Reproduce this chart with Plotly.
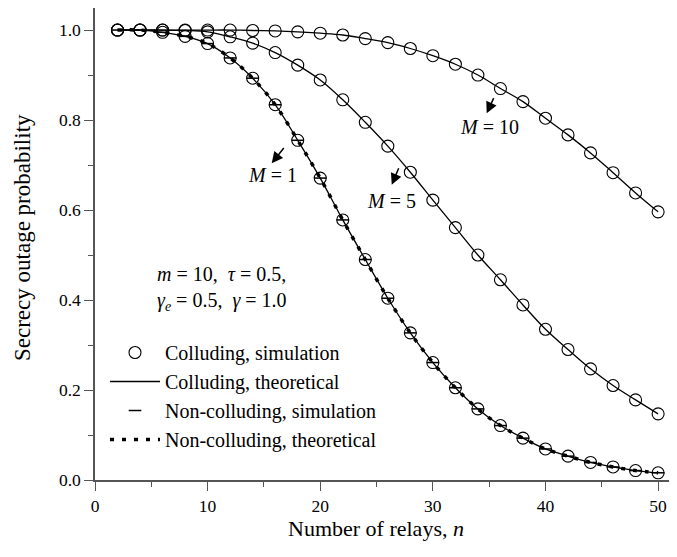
import plotly.graph_objects as go

n_relays = list(range(2, 51, 2))

# Secrecy outage probability, colluding eavesdroppers
col_M1 = [1.000, 1.000, 0.995, 0.986, 0.970, 0.938, 0.893, 0.834, 0.755, 0.671,
          0.578, 0.490, 0.404, 0.327, 0.261, 0.205, 0.158, 0.121, 0.093, 0.069,
          0.053, 0.039, 0.029, 0.021, 0.016]
col_M5 = [1.000, 1.000, 1.000, 0.999, 0.996, 0.985, 0.971, 0.950, 0.922, 0.889,
          0.845, 0.795, 0.742, 0.684, 0.622, 0.561, 0.500, 0.445, 0.389, 0.335,
          0.290, 0.247, 0.210, 0.178, 0.147]
col_M10 = [1.000, 1.000, 1.000, 1.000, 1.000, 1.000, 0.999, 0.998, 0.996, 0.993,
           0.989, 0.981, 0.972, 0.959, 0.943, 0.924, 0.900, 0.870, 0.841, 0.804,
           0.767, 0.727, 0.683, 0.638, 0.596]
# Non-colluding (M = 1)
noncol_M1 = [1.000, 1.000, 0.995, 0.986, 0.970, 0.938, 0.893, 0.834, 0.755, 0.671,
             0.578, 0.490, 0.404, 0.327, 0.261, 0.205, 0.158, 0.121, 0.093, 0.069,
             0.053, 0.039, 0.029, 0.021, 0.016]

x_ticks = [0, 10, 20, 30, 40, 50]
y_ticks = [0.0, 0.2, 0.4, 0.6, 0.8, 1.0]
y_tick_text = ["0.0", "0.2", "0.4", "0.6", "0.8", "1.0"]

FONT = "Liberation Serif, Times New Roman, serif"
fig = go.Figure()

curves = [col_M1, col_M5, col_M10]
# theoretical colluding lines
for i, c in enumerate(curves):
    fig.add_trace(go.Scatter(x=n_relays, y=c, mode="lines", line=dict(color="black", width=1.3, shape="spline"),
                             name="Colluding, theoretical", showlegend=(i == 0), legendrank=2))
# non-colluding theoretical (dotted)
fig.add_trace(go.Scatter(x=n_relays, y=noncol_M1, mode="lines",
                         line=dict(color="black", width=3.5, dash="4px,8px", shape="spline"),
                         name="Non-colluding, theoretical", legendrank=4))
# non-colluding simulation
fig.add_trace(go.Scatter(x=n_relays, y=noncol_M1, mode="markers",
                         marker=dict(symbol="line-ew", size=9, line=dict(color="black", width=1.5)),
                         name="Non-colluding, simulation", legendrank=3))
# colluding simulation circles
for i, c in enumerate(curves):
    fig.add_trace(go.Scatter(x=n_relays, y=c, mode="markers",
                             marker=dict(symbol="circle-open", size=12, color="black", line=dict(width=1.1)),
                             name="Colluding, simulation", showlegend=(i == 0), legendrank=1))

ann = []
# M labels with arrows: text position, arrow head, arrow tail (data units)
labels = [("<i>M</i> = 1", 15.8, 0.678, 15.69, 0.704, 16.87, 0.741),
          ("<i>M</i> = 5", 26.35, 0.620, 26.35, 0.656, 27.02, 0.696),
          ("<i>M</i> = 10", 35.01, 0.785, 34.78, 0.815, 35.46, 0.852)]
for txt, tx, ty, hx, hy, sx, sy in labels:
    ann.append(dict(x=tx, y=ty, xref="x", yref="y", text=txt, showarrow=False,
                    xanchor="center", yanchor="middle",
                    font=dict(family=FONT, size=20, color="black")))
    ann.append(dict(x=hx, y=hy, ax=sx, ay=sy, xref="x", yref="y", axref="x", ayref="y",
                    text="", showarrow=True, arrowhead=2, arrowsize=1.5, arrowwidth=1.5,
                    arrowcolor="black", standoff=0, startstandoff=0))
ann.append(dict(x=(155 - 95) / 580, y=(480 - 288) / 472, xref="paper", yref="paper",
                xanchor="left", yanchor="middle", align="left", showarrow=False,
                text="<i>m</i> = 10,  <i>τ</i> = 0.5,<br><i>γ<sub>e</sub></i> = 0.5,  <i>γ</i> = 1.0",
                font=dict(family=FONT, size=20, color="black")))
# axis titles
ann.append(dict(x=(376 - 95) / 580, y=(480 - 528) / 472, xref="paper", yref="paper",
                xanchor="center", yanchor="middle",
                text="Number of relays, <i>n</i>", showarrow=False,
                font=dict(family=FONT, size=22, color="black")))
ann.append(dict(x=(22 - 95) / 580, y=(480 - 238) / 472, xref="paper", yref="paper",
                xanchor="center", yanchor="middle",
                text="Secrecy outage probability", textangle=-90, showarrow=False,
                font=dict(family=FONT, size=23, color="black")))

axis_common = dict(showline=True, linecolor="#555", linewidth=1.5, ticks="outside",
                   ticklen=9, tickwidth=1.2, tickcolor="#555", showgrid=False, zeroline=False,
                   tickfont=dict(family=FONT, size=17.5, color="black"), mirror=False,
                   automargin=False)
fig.update_layout(
    width=669, height=549,
    margin=dict(l=87, r=2, t=0, b=77),
    plot_bgcolor="white", paper_bgcolor="white",
    xaxis=dict(range=[0, 51.5], tickvals=x_ticks,
               minor=dict(dtick=5, ticks="outside", ticklen=5, tickcolor="#555", showgrid=False),
               **axis_common),
    yaxis=dict(range=[0, 1.049], tickvals=y_ticks, ticktext=y_tick_text,
               minor=dict(dtick=0.1, ticks="outside", ticklen=5, tickcolor="#555", showgrid=False),
               **axis_common),
    legend=dict(x=(105 - 95) / 580, y=(480 - 333) / 472, xanchor="left", yanchor="top",
                font=dict(family=FONT, size=20, color="black"), bgcolor="rgba(0,0,0,0)",
                itemwidth=50, tracegroupgap=0),
    annotations=ann,
    showlegend=True,
)
fig.write_html("out.html")
